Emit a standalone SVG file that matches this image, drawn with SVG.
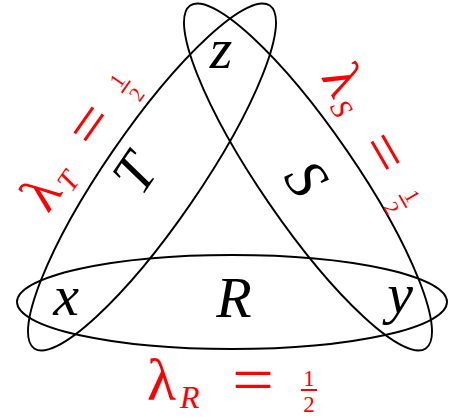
<svg xmlns="http://www.w3.org/2000/svg" width="452" height="417" viewBox="0 0 452 417">
<style>
.e{fill:none;stroke:#000;stroke-width:1.9}
.v{font-family:"Liberation Serif","DejaVu Serif",serif;font-style:italic;font-size:58px;fill:#000}
.lam{font-family:"Liberation Serif","DejaVu Serif",serif;font-size:60px;fill:#f00}
.sub{font-family:"Liberation Serif","DejaVu Serif",serif;font-style:italic;font-size:32px;fill:#f00}
.eq{font-family:"Liberation Serif","DejaVu Serif",serif;font-size:66px;fill:#f00}
.fr{font-family:"Liberation Serif","DejaVu Serif",serif;font-size:23px;fill:#f00}
.bar{stroke:#f00;stroke-width:2}
</style>
<defs>
<g id="half">
<text class="fr" x="78" y="1" text-anchor="middle">1</text>
<line class="bar" x1="70" y1="5" x2="86" y2="5"/>
<text class="fr" x="78" y="27" text-anchor="middle">2</text>
</g>
</defs>
<g id="edges">
<ellipse id="ellR" class="e" cx="232" cy="302" rx="215" ry="47"/>
<ellipse id="ellT" class="e" cx="0" cy="0" rx="208" ry="47" transform="translate(152,177) rotate(-55.5)"/>
<ellipse id="ellS" class="e" cx="0" cy="0" rx="208" ry="47" transform="translate(308,177) rotate(55.5)"/>
</g>
<g id="x"><text class="v" x="66" y="315" text-anchor="middle">x</text></g>
<g id="y"><text class="v" x="400" y="313" text-anchor="middle">y</text></g>
<g id="z"><text class="v" x="221" y="68" text-anchor="middle">z</text></g>
<g id="R"><text class="v" x="234" y="317" text-anchor="middle">R</text></g>
<g id="T"><text class="v" x="0" y="20" text-anchor="middle" transform="translate(134,173) rotate(-56)">T</text></g>
<g id="S"><text class="v" x="0" y="20" text-anchor="middle" transform="translate(307,178) rotate(56)">S</text></g>
<g id="labelR" transform="translate(231,385)">
<text class="lam" x="-84" y="15">λ</text>
<text class="sub" x="-51" y="23">R</text>
<text class="eq" x="1" y="17" textLength="42" lengthAdjust="spacingAndGlyphs">=</text>
<use href="#half"/>
</g>
<g id="labelT" transform="translate(81,143) rotate(-55) scale(0.92)">
<text class="lam" x="-84" y="15">λ</text>
<text class="sub" x="-51" y="23">T</text>
<text class="eq" x="1" y="17" textLength="42" lengthAdjust="spacingAndGlyphs">=</text>
<use href="#half"/>
</g>
<g id="labelS" transform="translate(371,137) rotate(60) scale(0.92)">
<text class="lam" x="-84" y="15">λ</text>
<text class="sub" x="-51" y="23">S</text>
<text class="eq" x="1" y="17" textLength="42" lengthAdjust="spacingAndGlyphs">=</text>
<use href="#half"/>
</g>
</svg>
